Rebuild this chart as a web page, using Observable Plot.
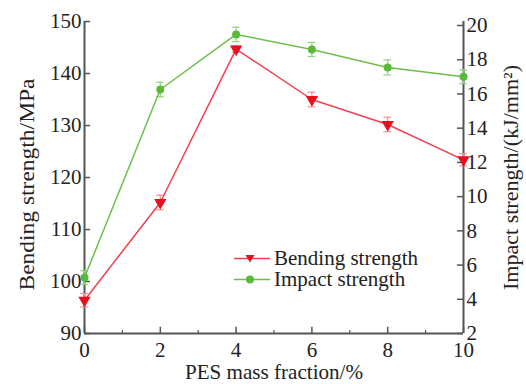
<!DOCTYPE html>
<html>
<head>
<meta charset="utf-8">
<script src="https://cdn.jsdelivr.net/npm/d3@7"></script>
<script src="https://cdn.jsdelivr.net/npm/@observablehq/plot@0.6"></script>
<style>
  html, body { margin: 0; padding: 0; background: #fff; }
  #wrap { position: relative; width: 526px; height: 384px; font-family: "Liberation Serif", "DejaVu Serif", serif; }
  #legend { position: absolute; left: 232px; top: 248px; font-size: 21px; color: #222; line-height: 21px; }
  #legend .row { display: flex; align-items: center; height: 21px; }
  #legend svg { margin-right: 4px; }
</style>
</head>
<body>
<div id="wrap">
  <div id="chart"></div>
  <div id="legend"></div>
</div>
<script>
// ---- data ----
const massFraction = [0, 2, 4, 6, 8, 10];
const bendingStrength = [96.4, 115.2, 144.7, 135.0, 130.2, 123.4];   // MPa
const bendingError    = [1.3, 1.4, 0.6, 1.4, 1.4, 1.2];
const impactStrength  = [5.27, 16.26, 19.48, 18.6, 17.55, 17.0];      // kJ/mm²
const impactError     = [0.4, 0.42, 0.42, 0.41, 0.44, 0.4];
const xTicks = [0, 2, 4, 6, 8, 10];
const xMinorTicks = [1, 3, 5, 7, 9];
const leftTicks = [90, 100, 110, 120, 130, 140, 150];
const rightTicks = [2, 4, 6, 8, 10, 12, 14, 16, 18, 20];
const seriesNames = ["Bending strength", "Impact strength"];
const xTitle = "PES mass fraction/%";
const yLeftTitle = "Bending strength/MPa";
const yRightTitle = "Impact strength/(kJ/mm²)";

// right-axis (impact) to left-axis (bending) units
const toLeft = v => 90 + (v - 2) * (59.23 / 18);

const red = "#f2404c", redMarker = "#e8101e", redErr = "#f78c92";
const green = "#6cc04a", greenMarker = "#5ab83a", greenErr = "#8fd27a";
const axisColor = "#555";
const textColor = "#222";

const bend = massFraction.map((x, i) => ({x, y: bendingStrength[i], e: bendingError[i]}));
const imp = massFraction.map((x, i) => ({x, y: toLeft(impactStrength[i]),
  lo: toLeft(impactStrength[i] - impactError[i]), hi: toLeft(impactStrength[i] + impactError[i])}));

const capW = 0.1;
const tickLen = 0.16;       // inward tick length in x units
const tickLenY = 1.2;       // inward tick length in y units (bottom axis)

const plot = Plot.plot({
  width: 526, height: 384,
  marginLeft: 84, marginRight: 63, marginTop: 21, marginBottom: 51,
  x: {domain: [0, 10], axis: null},
  y: {domain: [90, 150], axis: null},
  style: {fontFamily: "Liberation Serif, serif", fontSize: "21px", color: textColor, background: "transparent"},
  marks: [
    // axes lines
    Plot.ruleX([0, 10], {y1: 90, y2: 150, stroke: axisColor, strokeWidth: 2}),
    Plot.ruleY([90], {x1: 0, x2: 10, stroke: axisColor, strokeWidth: 2}),
    // inward ticks
    Plot.ruleY(leftTicks, {x1: 0, x2: tickLen, stroke: axisColor, strokeWidth: 1.5}),
    Plot.ruleY(rightTicks.map(toLeft), {x1: 10 - tickLen, x2: 10, stroke: axisColor, strokeWidth: 1.5}),
    Plot.ruleX(xTicks, {y1: 90, y2: 90 + tickLenY, stroke: axisColor, strokeWidth: 1.5}),
    Plot.ruleX(xMinorTicks, {y1: 90, y2: 90 + tickLenY * 0.5, stroke: axisColor, strokeWidth: 1.2}),
    // tick labels
    Plot.text(leftTicks, {x: 0, y: d => d, text: d => String(d), textAnchor: "end", dx: -3, fill: textColor}),
    Plot.text(rightTicks, {x: 10, y: d => toLeft(d), text: d => String(d), textAnchor: "start", dx: 3, fill: textColor}),
    Plot.text(xTicks, {x: d => d, y: 90, text: d => String(d), dy: 17, fill: textColor}),
    // axis titles
    Plot.text([yLeftTitle], {frameAnchor: "left", dx: -57, dy: 7, rotate: -90, text: d => d, fill: textColor}),
    Plot.text([yRightTitle], {frameAnchor: "right", dx: 48, rotate: -90, text: d => d, fill: textColor}),
    Plot.text([xTitle], {frameAnchor: "bottom", dy: 45, text: d => d, fill: textColor}),
    // error bars
    Plot.ruleX(bend, {x: "x", y1: d => d.y - d.e, y2: d => d.y + d.e, stroke: redErr, strokeWidth: 1.2}),
    Plot.ruleY(bend, {y: d => d.y - d.e, x1: d => d.x - capW, x2: d => d.x + capW, stroke: redErr, strokeWidth: 1.2}),
    Plot.ruleY(bend, {y: d => d.y + d.e, x1: d => d.x - capW, x2: d => d.x + capW, stroke: redErr, strokeWidth: 1.2}),
    Plot.ruleX(imp, {x: "x", y1: "lo", y2: "hi", stroke: greenErr, strokeWidth: 1.2}),
    Plot.ruleY(imp, {y: "lo", x1: d => d.x - capW, x2: d => d.x + capW, stroke: greenErr, strokeWidth: 1.2}),
    Plot.ruleY(imp, {y: "hi", x1: d => d.x - capW, x2: d => d.x + capW, stroke: greenErr, strokeWidth: 1.2}),
    // lines
    Plot.line(bend, {x: "x", y: "y", stroke: red, strokeWidth: 1.5}),
    Plot.line(imp, {x: "x", y: "y", stroke: green, strokeWidth: 1.5}),
    // markers
    Plot.dot(bend, {x: "x", y: "y", symbol: "triangle", rotate: 180, r: 4.6, fill: redMarker, stroke: "none"}),
    Plot.dot(imp, {x: "x", y: "y", symbol: "circle", r: 4, fill: greenMarker, stroke: "none"})
  ]
});
document.getElementById("chart").appendChild(plot);

// stretch titles to the reference's lengths (anchor at start, shifted by half the length)
const titleLengths = {[yLeftTitle]: 212, [yRightTitle]: 225, [xTitle]: 178};
d3.select(plot).selectAll("text").each(function() {
  const t = this.textContent;
  const L = titleLengths[t];
  if (L) {
    const xAttr = +(this.getAttribute("x") || 0);
    this.setAttribute("text-anchor", "start");
    this.setAttribute("x", xAttr - L / 2);
    this.setAttribute("textLength", L);
    this.setAttribute("lengthAdjust", "spacingAndGlyphs");
  }
});

// legend
const legend = d3.select("#legend");
const legendItems = [
  {name: seriesNames[0], color: red, marker: redMarker, sym: "tri"},
  {name: seriesNames[1], color: green, marker: greenMarker, sym: "circ"}
];
legendItems.forEach(it => {
  const row = legend.append("div").attr("class", "row");
  const s = row.append("svg").attr("width", 38).attr("height", 21);
  s.append("line").attr("x1", 2).attr("x2", 38).attr("y1", 10.5).attr("y2", 10.5).attr("stroke", it.color).attr("stroke-width", 1.5);
  if (it.sym === "tri") {
    s.append("path").attr("d", "M13.5,7 L22.5,7 L18,14.5 Z").attr("fill", it.marker);
  } else {
    s.append("circle").attr("cx", 18).attr("cy", 10.5).attr("r", 4).attr("fill", it.marker);
  }
  row.append("span").text(it.name);
});
</script>
</body>
</html>
